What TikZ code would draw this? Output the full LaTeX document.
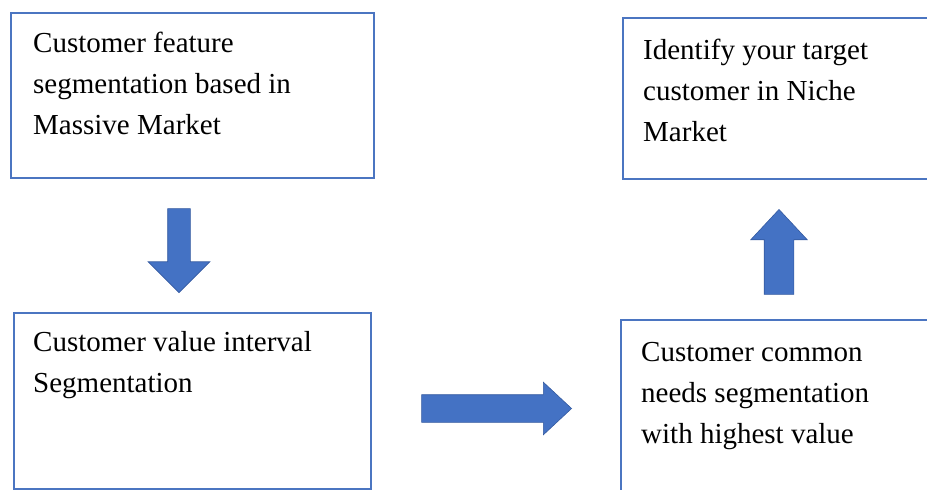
\documentclass[tikz,border=0pt]{standalone}
\usepackage{fontspec}
\setmainfont{Liberation Serif}
\usepackage{xcolor}
\usepackage{tikz}
\usetikzlibrary{shapes.arrows,calc}
\definecolor{frameblue}{RGB}{75,117,193}
\definecolor{fillblue}{RGB}{68,114,196}
\definecolor{edgeblue}{RGB}{52,90,160}
\tikzset{
  panel/.style   ={rectangle,draw=frameblue,line width=2.2pt,anchor=north west,inner sep=0pt},
  caption/.style ={anchor=north west,inner sep=0pt,align=left,font=\fontsize{29}{41}\selectfont},
  bigarrow/.style={single arrow,fill=fillblue,draw=edgeblue,line width=0.6pt,anchor=tip},
}

\begin{document}
\begin{tikzpicture}[x=1pt,y=-1pt]
  \useasboundingbox (0,0) rectangle (927,490);
  \clip (0,0) rectangle (927,490);
  % boxes (the right ones run past the page edge)
  \node[panel,minimum width=363pt,minimum height=165pt] (feature) at (10,12) {};
  \node[panel,minimum width=357pt,minimum height=176pt] (interval) at (13,312) {};
  \node[panel,minimum width=320pt,minimum height=161pt] (niche) at (622,17) {};
  \node[panel,minimum width=322pt,minimum height=190pt] (common) at (620,319) {};
  % texts, first baseline about 41pt under the top edge
  \node[caption] (featuretxt) at ($(feature.north west)+(23,12)$)
    {\strut Customer feature\\ segmentation based in\\ Massive Market};
  \node[caption] (intervaltxt) at ($(interval.north west)+(20,11)$)
    {\strut Customer value interval\\ Segmentation};
  \node[caption] (nichetxt) at ($(niche.north west)+(21,14)$)
    {\strut Identify your target\\ customer in Niche\\ Market};
  \node[caption] (commontxt) at ($(common.north west)+(21,14)$)
    {\strut Customer common\\ needs segmentation\\ with highest value};
  % block arrows between the boxes, placed by their tips, shaft = 2 x inner sep
  \node[bigarrow,shape border rotate=270,minimum height=84pt,inner sep=11pt,
        single arrow head extend=19.5pt] (down) at (179,293) {};
  \node[bigarrow,minimum height=150pt,inner sep=13.5pt,
        single arrow head extend=12.5pt,single arrow tip angle=86] (right) at (572,408.5) {};
  \node[bigarrow,shape border rotate=90,minimum height=85pt,inner sep=14.5pt,
        single arrow head extend=13.5pt,single arrow tip angle=86] (up) at (779,209) {};
\end{tikzpicture}
\end{document}
